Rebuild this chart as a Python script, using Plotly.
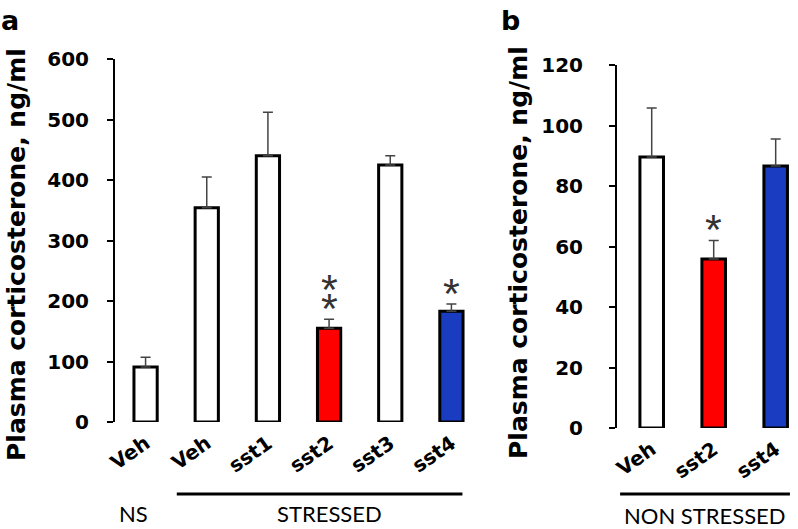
import plotly.graph_objects as go

# ---------------- data ----------------
labels_a = ["Veh", "Veh", "sst1", "sst2", "sst3", "sst4"]
values_a = [91, 354, 440, 155, 425, 183]
errors_a = [16, 51, 72, 15, 15, 12]
colors_a = ["white", "white", "white", "#ff0000", "white", "#1a3cc0"]
sig_a = ["", "", "", "**", "", "*"]

labels_b = ["Veh", "sst2", "sst4"]
values_b = [89.6, 55.9, 86.6]
errors_b = [16.2, 6.1, 8.9]
colors_b = ["white", "#ff0000", "#1a3cc0"]
sig_b = ["", "*", ""]

ytitle = "Plasma corticosterone, ng/ml"
groups_a = [("NS", 0, 0), ("STRESSED", 1, 5)]
groups_b = [("NON STRESSED", 0, 2)]

W, H = 798, 529
BOLD = dict(family="DejaVu Sans", weight="bold", color="black")

fig = go.Figure()

def add_panel(labels, values, errors, colors, xa, ya):
    xs = list(range(len(labels)))
    fig.add_trace(go.Bar(
        x=xs, y=values, width=0.38,
        marker=dict(color=colors, line=dict(color="black", width=3)),
        error_y=dict(type="data", array=errors, arrayminus=[0] * len(errors),
                     symmetric=False, color="#444", thickness=1.5, width=5),
        xaxis=xa, yaxis=ya, showlegend=False, hoverinfo="y"))

add_panel(labels_a, values_a, errors_a, colors_a, "x", "y")
add_panel(labels_b, values_b, errors_b, colors_b, "x2", "y2")

annotations = []
def add_sig(sig, values, errors, xref, yref):
    for i, s in enumerate(sig):
        for k in range(len(s)):
            annotations.append(dict(
                x=i, y=values[i] + errors[i], xref=xref, yref=yref,
                text="*", showarrow=False, xanchor="center", yanchor="bottom",
                yshift=-15 + k * 19,
                font=dict(family="Liberation Sans", size=43, color="#333")))

add_sig(sig_a, values_a, errors_a, "x", "y")
add_sig(sig_b, values_b, errors_b, "x2", "y2")

def ypx(p):
    return (H - p) / H

# group labels and bracket lines
for name, i0, i1 in groups_a:
    shift = -0.2 if i0 == i1 else 0.0
    annotations.append(dict(x=(i0 + i1) / 2 + shift, y=0, xref="x", yref="paper",
                            text=name, showarrow=False, xanchor="center", yanchor="bottom",
                            font=dict(family="Lato", size=22, color="black")))
for name, i0, i1 in groups_b:
    annotations.append(dict(x=(i0 + i1) / 2 - 0.14, y=ypx(531), xref="x2", yref="paper",
                            text=name, showarrow=False, xanchor="center", yanchor="bottom",
                            font=dict(family="Lato", size=22, color="black")))

shapes = [
    dict(type="line", xref="x", yref="paper", x0=0.51, x1=5.18,
         y0=ypx(494), y1=ypx(494), line=dict(color="black", width=3)),
    dict(type="line", xref="x2", yref="paper", x0=-0.51, x1=2.23,
         y0=ypx(494), y1=ypx(494), line=dict(color="black", width=3)),
]

# panel letters and y titles
annotations += [
    dict(x=10 / W, y=ypx(20), xref="paper", yref="paper", text="a", showarrow=False,
         xanchor="center", yanchor="middle", font=dict(size=27, **BOLD)),
    dict(x=510 / W, y=ypx(20), xref="paper", yref="paper", text="b", showarrow=False,
         xanchor="center", yanchor="middle", font=dict(size=27, **BOLD)),
    dict(x=16 / W, y=ypx(255), xref="paper", yref="paper", text=ytitle, textangle=-90,
         xanchor="center", yanchor="middle", showarrow=False, font=dict(size=25, **BOLD)),
    dict(x=518 / W, y=ypx(253), xref="paper", yref="paper", text=ytitle, textangle=-90,
         xanchor="center", yanchor="middle", showarrow=False, font=dict(size=25, **BOLD)),
]

xcommon = dict(showline=False, ticks="", showgrid=False, zeroline=False, automargin=False,
               tickangle=-35, tickfont=dict(size=20, **BOLD), ticklabelstandoff=5)
ycommon = dict(showline=True, linecolor="black", linewidth=2, ticks="outside",
               ticklen=6, tickwidth=2, tickcolor="black", showgrid=False, automargin=False,
               zeroline=False, tickfont=dict(size=20, **BOLD))

fig.update_layout(
    template="none",
    width=W, height=H, margin=dict(l=0, r=0, t=0, b=0, autoexpand=False),
    paper_bgcolor="white", plot_bgcolor="white",
    xaxis=dict(domain=[115 / W, 482 / W], range=[-0.5, 5.5],
               tickvals=list(range(len(labels_a))), ticktext=labels_a, anchor="y", **xcommon),
    yaxis=dict(domain=[ypx(422), ypx(59)], range=[0, 600], dtick=100, anchor="x",
               ticklabelstandoff=14, **ycommon),
    xaxis2=dict(domain=[617 / W, 1.0], range=[-0.56, 2.36],
                tickvals=list(range(len(labels_b))), ticktext=labels_b, anchor="y2", **xcommon),
    yaxis2=dict(domain=[ypx(428), ypx(65)], range=[0, 120], dtick=20, anchor="x2",
                ticklabelstandoff=22, **ycommon),
    annotations=annotations, shapes=shapes,
)

fig.write_html("out.html", config={"displayModeBar": False},
               post_script="document.body.style.margin='0';document.body.style.overflow='hidden';")
